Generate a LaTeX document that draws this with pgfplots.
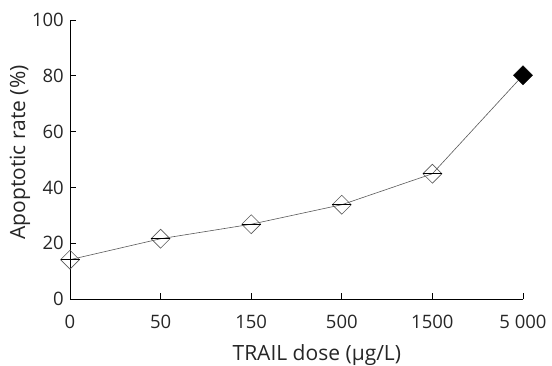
\documentclass[border=0pt]{standalone}
\usepackage{fontspec}
\setmainfont{Open Sans}
\usepackage{pgfplots}
\pgfplotsset{compat=1.18}
\usetikzlibrary{plotmarks}
\begin{document}
\begin{tikzpicture}[x=1pt,y=1pt]
\useasboundingbox (0,0) rectangle (552,365);
\begin{axis}[
  at={(70pt,66pt)}, anchor=south west,
  scale only axis, width=453pt, height=279pt,
  xmin=0, xmax=5, ymin=0, ymax=100,
  axis x line=bottom, axis y line=left,
  axis line style={-, line width=0.8pt},
  xtick={0,1,2,3,4,5},
  xticklabels={0,50,150,500,1500,5 000},
  ytick={0,20,40,60,80,100},
  tick align=inside,
  major tick length=6pt,
  tick style={black, line width=0.8pt},
  ticklabel style={font=\fontsize{18.5}{20}\selectfont, text=black!85},
  /pgf/number format/assume math mode=true,
  xticklabel style={anchor=base, inner sep=0pt, yshift=-29pt},
  yticklabel style={anchor=east, inner sep=0pt, xshift=-6pt},
  xlabel={TRAIL dose (μg/L)},
  ylabel={Apoptotic rate (\%)},
  label style={font=\fontsize{21}{23}\selectfont, text=black!85},
  xlabel style={at={(axis description cs:0.545,0)}, anchor=base, inner sep=0pt, yshift=-61pt},
  ylabel style={at={(axis description cs:-0.1104,0.525)}, anchor=center, inner sep=0pt},
  clip=false,
]
\addplot[gray!70!black, line width=0.6pt, mark=square, mark size=6.7pt,
  mark options={rotate=45, draw=gray!70!black, fill=white, line width=0.6pt}]
  coordinates {(0,14.1) (1,21.6) (2,26.8) (3,33.8) (4,44.9)};
\addplot[only marks, mark=-, mark size=9.5pt, mark options={black, line width=0.9pt}]
  coordinates {(0,14.1) (1,21.6) (2,26.8) (3,33.8) (4,44.9)};
\addplot[gray!70!black, line width=0.6pt, forget plot] coordinates {(4,44.9) (5,80.2)};
\addplot[only marks, mark=square*, mark size=6.7pt,
  mark options={rotate=45, fill=black, draw=black}]
  coordinates {(5,80.2)};
\end{axis}
\end{tikzpicture}
\end{document}
